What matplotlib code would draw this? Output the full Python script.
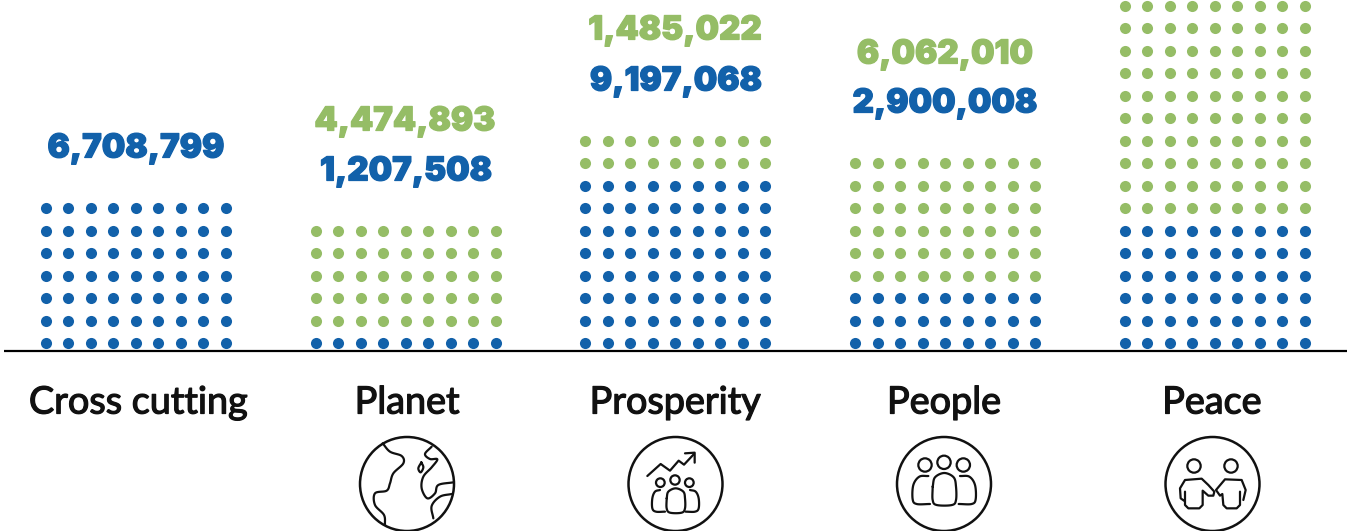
import numpy as np
import matplotlib
matplotlib.use("Agg")
import matplotlib.pyplot as plt
from matplotlib.patches import Circle
import matplotlib.patheffects as pe

categories = ["Cross cutting", "Planet", "Prosperity", "People", "Peace"]
blue_rows = [7, 1, 8, 3, 6]
green_rows = [0, 5, 2, 6, 10]
blue_labels = ["6,708,799", "1,207,508", "9,197,068", "2,900,008", None]
green_labels = [None, "4,474,893", "1,485,022", "6,062,010", None]

BLUE = "#1261AA"
GREEN = "#95BD66"
INK = "#111111"
W, H = 1350, 531
COLS = 9

fig = plt.figure(figsize=(13.5, 5.31), dpi=100, facecolor="white")
ax = fig.add_axes([0, 0, 1, 1])
PX_CAT, PX_ROW = 269.75, 22.47
X0, Y0 = 136, 343
ax.set_xlim((0 - X0) / PX_CAT, (W - X0) / PX_CAT)
ax.set_ylim((Y0 - H) / PX_ROW, (Y0 - 0) / PX_ROW)
ax.axis("off")

step = 22.5 / PX_CAT
for c, (nb, ng) in enumerate(zip(blue_rows, green_rows)):
    xs = c + (np.arange(COLS) - (COLS - 1) / 2) * step
    for r in range(nb + ng):
        ax.scatter(xs, np.full(COLS, r), s=64, color=BLUE if r < nb else GREEN,
                   linewidths=0, zorder=3, clip_on=True)

# overlay in pixel units for rule, text and icons
ov = fig.add_axes([0, 0, 1, 1], facecolor="none")
ov.set_xlim(0, W)
ov.set_ylim(H, 0)
ov.axis("off")
ov.plot([4, 1347], [351, 351], color="#000000", lw=1.6, solid_capstyle="butt", zorder=4)

num_font = dict(family="Inter", weight=900, fontsize=23.8, ha="center", va="baseline")
blue_pos = [(136, 157.5), (406, 180.5), (676, 90.5), (945, 112.5)]
green_pos = [None, (405, 130.5), (675, 39.5), (945, 63.5)]
for i, lab in enumerate(blue_labels):
    if lab:
        ov.text(*blue_pos[i], lab, color=BLUE,
                path_effects=[pe.withStroke(linewidth=0.9, foreground=BLUE)], **num_font)
for i, lab in enumerate(green_labels):
    if lab:
        ov.text(*green_pos[i], lab, color=GREEN,
                path_effects=[pe.withStroke(linewidth=0.9, foreground=GREEN)], **num_font)

label_x = [138, 407, 675, 944, 1212]
for x, lab in zip(label_x, categories):
    ov.text(x, 413.5, lab, family="Lato", weight="regular", fontsize=27.2, color=INK,
            ha="center", va="baseline",
            path_effects=[pe.withStroke(linewidth=0.9, foreground=INK)])


def spline(pts, n=12):
    p = np.array(pts, float)
    p = np.vstack([2 * p[0] - p[1], p, 2 * p[-1] - p[-2]])
    out = []
    for i in range(1, len(p) - 2):
        for t in np.linspace(0, 1, n, endpoint=False):
            out.append(0.5 * ((2 * p[i]) + (-p[i - 1] + p[i + 1]) * t
                              + (2 * p[i - 1] - 5 * p[i] + 4 * p[i + 1] - p[i + 2]) * t ** 2
                              + (-p[i - 1] + 3 * p[i] - 3 * p[i + 1] + p[i + 2]) * t ** 3))
    out.append(p[-2])
    return np.array(out)


LW = 1.6


def draw(pts, org, smooth=True, lw=LW):
    q = spline(pts) if smooth else np.array(pts, float)
    q = q / 3 + org
    ov.plot(q[:, 0], q[:, 1], color=INK, lw=lw, solid_capstyle="round",
            solid_joinstyle="round", zorder=5)


def ring(x, y, r, org, lw=LW):
    ov.add_patch(Circle((x / 3 + org[0], y / 3 + org[1]), r / 3, fill=False, ec=INK, lw=lw, zorder=5))


for cx in [407, 675.5, 944, 1212.5]:
    ov.add_patch(Circle((cx, 484), 47, fill=False, ec=INK, lw=1.8, zorder=5))

# Planet
o = (340, 430)
draw([(128, 40), (150, 65), (185, 78), (190, 100), (160, 130), (150, 160), (140, 182), (105, 190),
      (105, 225), (132, 255), (135, 285)], o)
draw([(275, 50), (255, 72), (270, 87), (292, 88), (275, 112), (250, 140), (245, 175), (262, 205),
      (285, 190), (295, 165), (340, 157)], o)
draw([(335, 192), (300, 200), (275, 228), (280, 265)], o)
draw([(244, 97), (250, 112), (242, 127), (235, 115), (244, 97)], o)

# Prosperity
draw([(922, 138), (962, 102), (990, 122), (1016, 92), (1032, 104), (1062, 72)], o, smooth=False)
draw([(1035, 70), (1064, 68), (1064, 98)], o, smooth=False)
for x, y, r in [(961, 158, 13), (1005, 150, 14), (1048, 158, 13)]:
    ring(x, y, r, o)
draw([(980, 205), (985, 185), (1007, 175), (1030, 185), (1035, 205), (1035, 235), (1025, 248),
      (990, 248), (980, 235), (980, 205)], o)
draw([(960, 180), (945, 185), (937, 205), (937, 235), (948, 245), (975, 245)], o)
draw([(1050, 180), (1067, 185), (1076, 205), (1076, 235), (1065, 245), (1037, 245)], o)

# People
o = (880, 430)
for x, y, r in [(135, 105, 20), (192, 97, 20), (250, 105, 20)]:
    ring(x, y, r, o)
draw([(158, 170), (165, 142), (193, 129), (221, 142), (228, 170), (228, 210), (216, 225),
      (170, 225), (158, 210), (158, 170)], o)
draw([(145, 138), (118, 140), (100, 165), (98, 208), (110, 222), (150, 222)], o)
draw([(240, 138), (268, 140), (285, 165), (287, 208), (275, 222), (236, 222)], o)

# Peace
for x, y, r in [(942, 108, 20), (1053, 108, 20)]:
    ring(x, y, r, o)
draw([(912, 212), (902, 205), (900, 175), (915, 150), (965, 146), (985, 165), (1003, 185), (1000, 197),
      (985, 197), (968, 182), (968, 225), (958, 235), (925, 235), (915, 225), (915, 185)], o, smooth=False)
draw([(1090, 210), (1097, 180), (1085, 150), (1035, 148), (1008, 180), (1020, 197), (1027, 192),
      (1030, 225), (1040, 235), (1070, 235), (1080, 225), (1080, 185)], o, smooth=False)

fig.savefig("out.png", dpi=100, facecolor="white")
